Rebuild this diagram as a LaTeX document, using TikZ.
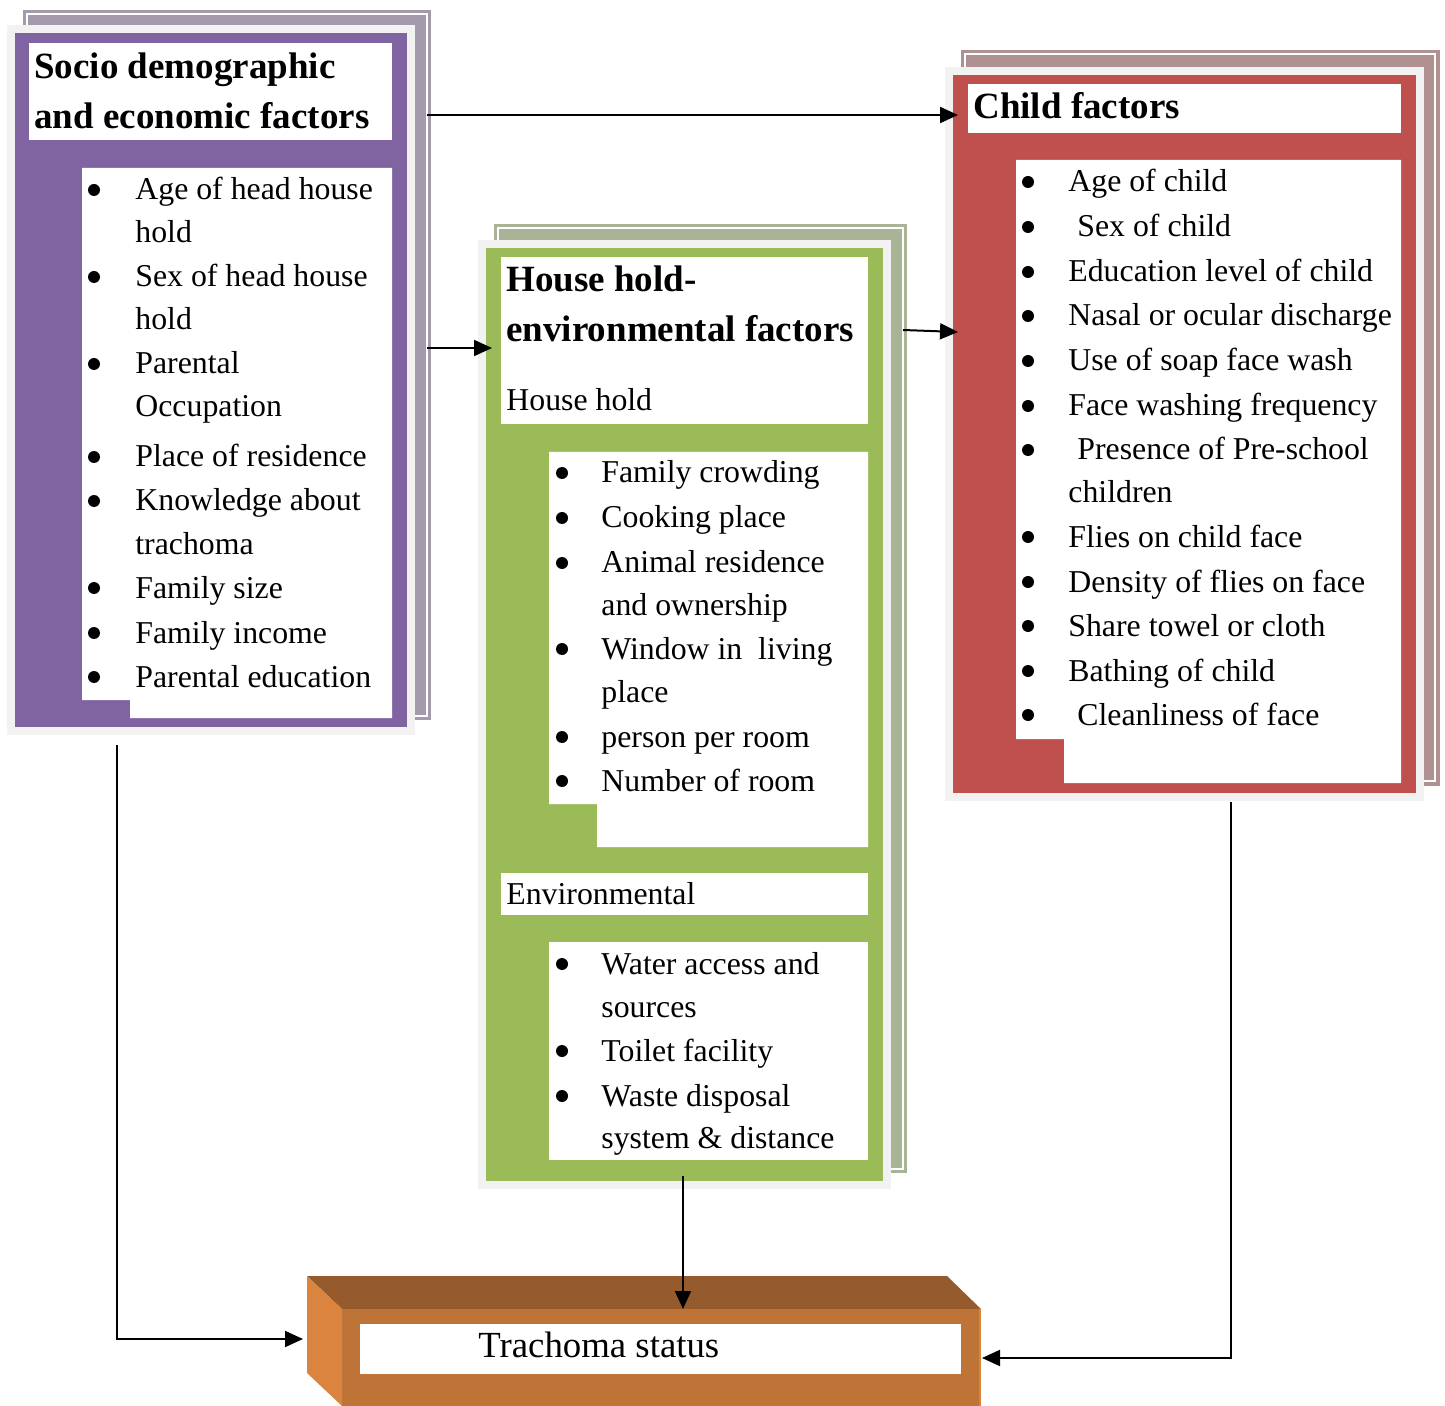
\documentclass[tikz,border=0pt]{standalone}
\usepackage{fontspec}
\setmainfont{Liberation Serif}
\usetikzlibrary{arrows.meta}

\definecolor{purplebox}{HTML}{8064A2}
\definecolor{purpleback}{HTML}{A39AAC}
\definecolor{greenbox}{HTML}{9BBB59}
\definecolor{greenback}{HTML}{A9B497}
\definecolor{redbox}{HTML}{C0504D}
\definecolor{redback}{HTML}{B09192}
\definecolor{paleframe}{HTML}{F2F2F2}
\definecolor{cubetop}{HTML}{955B2C}
\definecolor{cubefront}{HTML}{BE7437}
\definecolor{cubeside}{HTML}{DA843F}

\tikzset{
  heading/.style={anchor=base west, inner sep=0pt, font=\fontsize{18.5}{24}\selectfont\bfseries},
  entry/.style={anchor=base west, inner sep=0pt, font=\fontsize{15.9}{20}\selectfont},
  sheetline/.style={white, line width=0.6pt},
  link/.style={line width=1pt, -{Triangle[length=9pt,width=8pt]}},
}

\begin{document}
\begin{tikzpicture}[x=0.5pt, y=-0.5pt]
\useasboundingbox (0,0) rectangle (1445,1406);

% Socio demographic box
\fill[purpleback] (23,10) rectangle (431,720);
\draw[sheetline] (27,14) rectangle (427,716);
\fill[paleframe] (7,25) rectangle (415,735);
\fill[purplebox] (15,33) rectangle (407,727);
\fill[white] (29,43) rectangle (392,140);
\fill[white] (82,168) -- (392,168) -- (392,718) -- (130,718) -- (130,700) -- (82,700) -- cycle;
\node[heading] (soc1) at (34,79) {Socio demographic};
\node[heading] (soc2) at (34,129) {and economic factors};
\foreach \yy/\txt [count=\i] in {200/Age of head house, 243/hold, 287/Sex of head house, 330/hold,
    374/Parental, 417/Occupation, 467/Place of residence, 511/Knowledge about, 554/trachoma,
    598/Family size, 643/Family income, 687/Parental education}
  \node[entry] (socitem\i) at (135,\yy) {\txt};
\foreach \yy in {200,287,374,467,511,598,643,687}
  \fill (94,\yy-10) circle[radius=3pt];

% House hold box
\fill[greenback] (494,224) rectangle (907,1173);
\draw[sheetline] (498,228) rectangle (903,1169);
\fill[paleframe] (478,240) rectangle (891,1189);
\fill[greenbox] (486,248) rectangle (883,1181);
\fill[white] (501,257) rectangle (868,424);
\fill[white] (549,452) -- (868,452) -- (868,847) -- (597,847) -- (597,804) -- (549,804) -- cycle;
\fill[white] (501,873) rectangle (868,915);
\fill[white] (549,942) rectangle (868,1160);
\node[heading] (hh1) at (506,292) {House hold-};
\node[heading] (hh2) at (506,342) {environmental factors};
\node[entry] (hhsub) at (506,411) {House hold};
\node[entry] (envsub) at (506,904) {Environmental};
\foreach \yy/\txt [count=\i] in {483/Family crowding, 528/Cooking place, 573/Animal residence,
    615/and ownership, 659/Window in\ \ living, 702/place, 747/person per room, 791/Number of room,
    974/Water access and, 1017/sources, 1061/Toilet facility, 1106/Waste disposal,
    1148/system \& distance}
  \node[entry] (hhitem\i) at (601,\yy) {\txt};
\foreach \yy in {483,528,573,659,747,791,974,1061,1106}
  \fill (562,\yy-10) circle[radius=3pt];

% Child factors box
\fill[redback] (961,50) rectangle (1440,786);
\draw[sheetline] (965,54) rectangle (1435,781);
\fill[paleframe] (945,67) rectangle (1424,801);
\fill[redbox] (953,75) rectangle (1416,793);
\fill[white] (968,84) rectangle (1401,133);
\fill[white] (1016,160) -- (1401,160) -- (1401,783) -- (1064,783) -- (1064,739) -- (1016,739) -- cycle;
\node[heading] (child) at (973,119) {Child factors};
\foreach \xx/\yy/\txt [count=\i] in {1068/192/Age of child, 1077/237/Sex of child,
    1068/282/Education level of child, 1068/326/Nasal or ocular discharge,
    1068/371/Use of soap face wash, 1068/416/Face washing frequency,
    1077/460/Presence of Pre-school, 1068/503/children, 1068/547/Flies on child face,
    1068/592/Density of flies on face, 1068/636/Share towel or cloth,
    1068/681/Bathing of child, 1077/725/Cleanliness of face}
  \node[entry] (chitem\i) at (\xx,\yy) {\txt};
\foreach \yy in {192,237,282,326,371,416,460,547,592,636,681,725}
  \fill (1028,\yy-10) circle[radius=3pt];

% Trachoma status block
\fill[cubetop] (307,1276) -- (947,1276) -- (981,1309) -- (342,1309) -- cycle;
\fill[cubeside] (307,1276) -- (342,1309) -- (342,1406) -- (307,1373) -- cycle;
\fill[cubefront] (342,1309) rectangle (981,1406);
\draw[cubeside, line width=0.8pt] (980,1309) -- (980,1406);
\fill[white] (360,1324) rectangle (961,1374);
\node[anchor=base west, inner sep=0pt, font=\fontsize{18.4}{22}\selectfont] (status) at (478,1357) {Trachoma status};

% Arrow ends
\coordinate (socout1) at (427,115);
\coordinate (chin1) at (958,115);
\coordinate (socout2) at (427,348);
\coordinate (hhin) at (492,348);
\coordinate (hhout) at (903,330);
\coordinate (chin2) at (958,332);
\coordinate (socdown) at (117,745);
\coordinate (statusleft) at (303,1339);
\coordinate (hhdown) at (683,1176);
\coordinate (statustop) at (683,1309);
\coordinate (chdown) at (1231,802);
\coordinate (statusright) at (982,1358);

% Arrows
\draw[link] (socout1) -- (chin1);
\draw[link] (socout2) -- (hhin);
\draw[link] (hhout) -- (chin2);
\draw[link] (socdown) |- (statusleft);
\draw[link] (hhdown) -- (statustop);
\draw[link] (chdown) |- (statusright);

\end{tikzpicture}
\end{document}
